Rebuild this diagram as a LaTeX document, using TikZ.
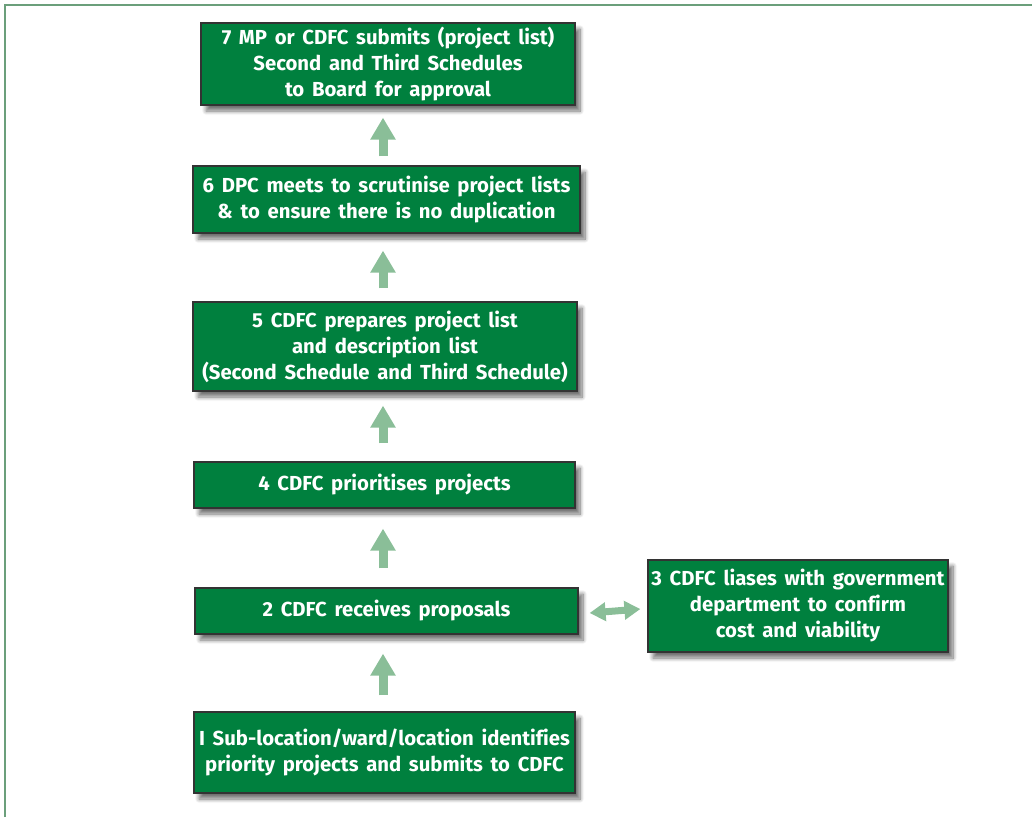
\documentclass[tikz,border=0pt]{standalone}
\usepackage{fontspec}
\setmainfont{Fira Sans}[Ligatures=NoCommon, WordSpace=1.6]
\usetikzlibrary{arrows.meta,shadows.blur,calc}
\definecolor{boxgreen}{RGB}{0,128,62}
\definecolor{arrowgreen}{RGB}{138,190,152}
\definecolor{framegreen}{RGB}{107,159,123}
\tikzset{
  stepbox/.style={draw=black!80, line width=1.2pt, fill=boxgreen, text=white,
    font=\fontsize{20.3}{26}\selectfont\bfseries, align=center, inner sep=0pt,
    blur shadow={shadow xshift=5pt, shadow yshift=-6pt, shadow blur steps=10, shadow opacity=55, shadow blur radius=4pt}},
  fat/.style={draw=arrowgreen, line width=9pt, -{Triangle[width=24pt,length=22pt]}},
  twin/.style={draw=arrowgreen, line width=7pt, {Triangle[width=18pt,length=16pt]}-{Triangle[width=18pt,length=16pt]}}
}
\begin{document}
\begin{tikzpicture}[x=1pt,y=-1pt]
\useasboundingbox (0,0) rectangle (1032,817);
% outer frame: top and left rules
\draw[framegreen, line width=2pt] (5,817) -- (5,5) -- (1032,5);

\node[stepbox, minimum width=374pt, minimum height=82pt] (n7) at (388,64)
  {7 MP or CDFC submits (project list)\\Second and Third Schedules\\to Board for approval};
\node[stepbox, minimum width=387pt, minimum height=67pt] (n6) at (386.5,199.5)
  {6 DPC meets to scrutinise project lists\\ \& to ensure there is no duplication};
\node[stepbox, minimum width=384pt, minimum height=89pt] (n5) at (385,346.5)
  {5 CDFC prepares project list\\and description list\\(Second Schedule and Third Schedule)};
\node[stepbox, minimum width=381pt, minimum height=46pt] (n4) at (384.5,485)
  {4 CDFC prioritises projects};
\node[stepbox, minimum width=383pt, minimum height=46pt] (n2) at (386.5,611)
  {2 CDFC receives proposals};
\node[stepbox, minimum width=300pt, minimum height=92pt] (n3) at (798,606)
  {3 CDFC liases with government\\department to confirm\\cost and viability};
\node[stepbox, minimum width=381pt, minimum height=81pt] (n1) at (384.5,752.5)
  {I Sub-location/ward/location identifies\\priority projects and submits to CDFC};

% axis of the vertical flow arrows
\coordinate (ax) at (383,0);
\draw[fat] ([yshift=16pt]n1.north -| ax) -- ([yshift=-19pt]n2.south -| ax);
\draw[fat] ([yshift=19pt]n2.north -| ax) -- ([yshift=-20pt]n4.south -| ax);
\draw[fat] ([yshift=18pt]n4.north -| ax) -- ([yshift=-14pt]n5.south -| ax);
\draw[fat] ([yshift=13pt]n5.north -| ax) -- ([yshift=-17pt]n6.south -| ax);
\draw[fat] ([yshift=9pt]n6.north -| ax) -- ([yshift=-12pt]n7.south -| ax);
% two-way link between steps 2 and 3
\draw[twin] ([xshift=11pt,yshift=-2pt]n2.east) -- ([xshift=-7pt]n3.west |- 0,609);
\end{tikzpicture}
\end{document}
